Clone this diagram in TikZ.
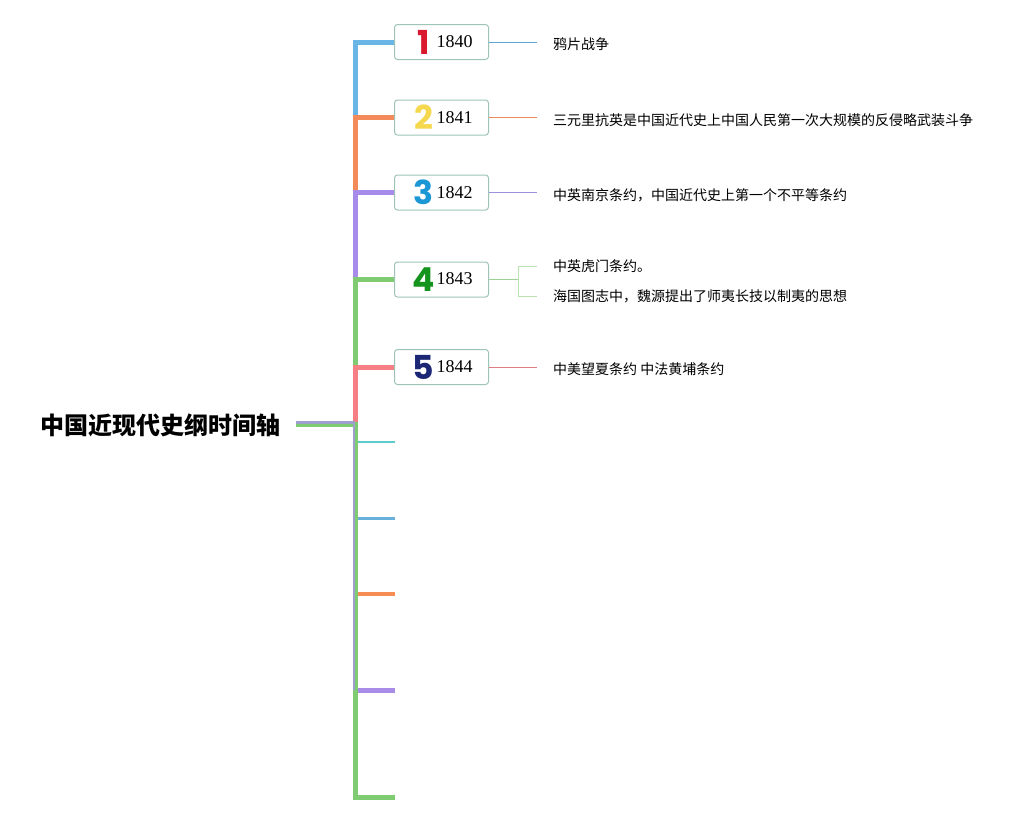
\documentclass[tikz,border=0pt]{standalone}
\usepackage{fontspec}
\setmainfont{Liberation Serif}
\newfontfamily\cjk{Noto Sans CJK SC}
\newfontfamily\numf{Poppins}
\definecolor{boxC}{HTML}{9EC4B8}
\definecolor{cA}{HTML}{69B6E6}
\definecolor{cB}{HTML}{F28A5A}
\definecolor{cC}{HTML}{A68BEA}
\definecolor{cD}{HTML}{7ECB72}
\definecolor{cE}{HTML}{F57F85}
\definecolor{cCyan}{HTML}{5FCBCB}
\definecolor{cLBlue}{HTML}{6AB0DC}
\definecolor{cLOrange}{HTML}{F58D55}
\definecolor{cLPurple}{HTML}{A98BE8}
\definecolor{cGray}{HTML}{9DA0CC}
\definecolor{nA}{HTML}{D9182F}
\definecolor{nB}{HTML}{F5D84E}
\definecolor{nC}{HTML}{1C97D6}
\definecolor{nD}{HTML}{14941C}
\definecolor{nE}{HTML}{1B2775}
\definecolor{lA}{HTML}{5BA6D6}
\definecolor{lB}{HTML}{EC8B5A}
\definecolor{lC}{HTML}{9D8FDB}
\definecolor{lD}{HTML}{9ED294}
\definecolor{lDb}{HTML}{B8E2AF}
\definecolor{lE}{HTML}{DF7D82}
\newcommand\bigdigit[2]{{\numf\bfseries\fontsize{33}{33}\selectfont\textcolor{#1}{#2}}}
\newcommand\yeartxt[1]{\raisebox{6.5pt}{\fontsize{18}{18}\selectfont #1}}
\newcommand\yearcontent[3]{\hspace*{4pt}\makebox[18pt]{\bigdigit{#1}{#2}}\hspace{4pt}\yeartxt{#3}}
\begin{document}
\begin{tikzpicture}[x=1pt,y=-1pt,
  yearbox/.style={draw=boxC, line width=1pt, rounded corners=3pt, fill=white,
    minimum width=94pt, minimum height=35pt, inner sep=0pt},
  spine/.style={line width=5pt},
  thinline/.style={line width=1pt},
  lbl/.style={anchor=west, inner sep=0pt, font=\cjk\fontsize{14}{16}\selectfont},
]
\useasboundingbox[fill=white] (0,0) rectangle (1033,822);

% root
\node[font=\cjk\bfseries\fontsize{24}{26}\selectfont, inner sep=0pt] (root) at (160.5,425.5) {中国近现代史纲时间轴};
\coordinate (rootend) at (296,424);
\coordinate (hub) at (355,424);

% year box positions
\coordinate (p1) at (441.5,42);
\coordinate (p2) at (441.5,117.5);
\coordinate (p3) at (441.5,192.5);
\coordinate (p4) at (441.5,279.5);
\coordinate (p5) at (441.5,367);

% upper spine
\draw[spine, cA] (rootend) -- (hub) |- (p1);
\draw[spine, cB] (rootend) -- (hub) |- (p2);
\draw[spine, cC] (rootend) -- (hub) |- (p3);
\draw[spine, cD] (rootend) -- (hub) |- (p4);
\draw[spine, cE] (rootend) -- (hub) |- (p5);

% lower empty branches
\coordinate (e1) at (395,442);
\coordinate (e2) at (395,518);
\coordinate (e3) at (395,594);
\coordinate (e4) at (395,690);
\coordinate (e5) at (395,797);
\draw[line width=2pt, cCyan] (e1 -| hub) -- (e1);
\draw[line width=3pt, cLBlue] (e2 -| hub) -- (e2);
\draw[line width=4pt, cLOrange] (e3 -| hub) -- (e3);
\draw[line width=5pt, cLPurple] (e4 -| hub) -- (e4);
\draw[spine, cD] (rootend) -- (hub) |- (e5);
\coordinate (gA) at (296,422.4);
\coordinate (gB) at (353.6,422.4);
\coordinate (gC) at (353.6,690);
\draw[line width=2.2pt, cGray] (gA) -- (gB) -- (gC);

% boxes
\node[yearbox] (b1) at (p1) {\yearcontent{nA}{1}{1840}};
\node[yearbox] (b2) at (p2) {\yearcontent{nB}{2}{1841}};
\node[yearbox] (b3) at (p3) {\yearcontent{nC}{3}{1842}};
\node[yearbox] (b4) at (p4) {\yearcontent{nD}{4}{1843}};
\node[yearbox] (b5) at (p5) {\yearcontent{nE}{5}{1844}};

% texts
\node[lbl] (t1) at (553,44.5) {鸦片战争};
\node[lbl] (t2) at (553,120) {三元里抗英是中国近代史上中国人民第一次大规模的反侵略武装斗争};
\node[lbl] (t3) at (553,195) {中英南京条约，中国近代史上第一个不平等条约};
\node[lbl] (t4a) at (553,266.5) {中英虎门条约。};
\node[lbl] (t4b) at (553,296) {海国图志中，魏源提出了师夷长技以制夷的思想};
\node[lbl] (t5) at (553,369.5) {中美望夏条约 中法黄埔条约};

% thin connectors
\draw[thinline, lA, shorten >=16pt] (b1.east) -- (b1.east -| t1.west);
\draw[thinline, lB, shorten >=16pt] (b2.east) -- (b2.east -| t2.west);
\draw[thinline, lC, shorten >=16pt] (b3.east) -- (b3.east -| t3.west);
\draw[thinline, lE, shorten >=16pt] (b5.east) -- (b5.east -| t5.west);
\coordinate (k4) at (518,279.5);
\draw[thinline, lD] (b4.east) -- (k4);
\draw[thinline, lDb, shorten >=16pt] (k4) |- (t4a.west);
\draw[thinline, lDb, shorten >=16pt] (k4) |- (t4b.west);
\end{tikzpicture}
\end{document}
